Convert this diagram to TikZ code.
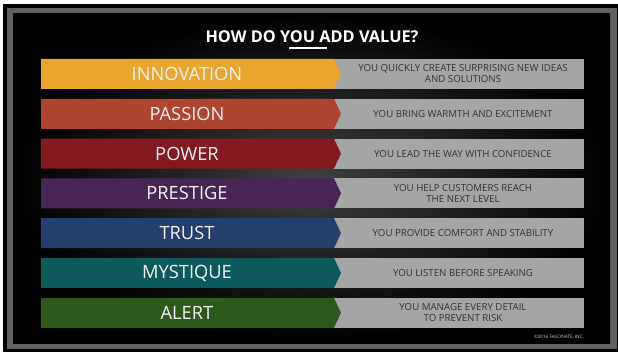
\documentclass[tikz,border=0pt]{standalone}
\usepackage{fontspec}
\setmainfont{Open Sans}
\usepackage{xcolor}
\usepackage{tikz}

\definecolor{innovation}{HTML}{E9A52E}
\definecolor{passion}{HTML}{AF4430}
\definecolor{power}{HTML}{841A1F}
\definecolor{prestige}{HTML}{472655}
\definecolor{trust}{HTML}{223F6E}
\definecolor{mystique}{HTML}{0C5A5B}
\definecolor{alert}{HTML}{2E591C}
\definecolor{descgray}{HTML}{A3A6A5}
\definecolor{frame}{HTML}{616161}

\begin{document}
\begin{tikzpicture}[x=1pt,y=-1pt,
    lbl/.style={text=white!95!black,font=\fontsize{18.3}{20}\selectfont},
    desc/.style={text=black!80,align=center,font=\fontsize{9.7}{11}\selectfont},
    descbar/.style={fill=descgray}]
      \useasboundingbox (0,0) rectangle (618,352);
      \fill[white] (0,0) rectangle (618,352);
      \fill[black] (3,4) rectangle (618,352);
      \fill[frame] (7,8) rectangle (617,349);
      \shade[inner color=black!75!white,outer color=black] (13,14) rectangle (610,343);

      \node[text=white,font=\bfseries\fontsize{16.3}{18}\selectfont,anchor=base] (title) at (312,43) {HOW DO YOU ADD VALUE?};
      \draw[white,line width=2pt] (289,48) -- (327,48);

      % innovation
      \fill[descbar] (333,59) rectangle (584,89);
      \fill[innovation] (41,59) -- (334,59) -- (341,74) -- (334,89) -- (41,89) -- cycle;
      \node[lbl] (m-1-1) at (187,74) {INNOVATION};
      \node[desc] (m-1-2) at (463,74) {YOU QUICKLY CREATE SURPRISING NEW IDEAS\\AND SOLUTIONS};

      % passion
      \fill[descbar] (333,98.8) rectangle (584,128.8);
      \fill[passion] (41,98.8) -- (334,98.8) -- (341,113.8) -- (334,128.8) -- (41,128.8) -- cycle;
      \node[lbl] (m-2-1) at (187,113.8) {PASSION};
      \node[desc] (m-2-2) at (463,113.8) {YOU BRING WARMTH AND EXCITEMENT};

      % power
      \fill[descbar] (333,138.6) rectangle (584,168.6);
      \fill[power] (41,138.6) -- (334,138.6) -- (341,153.6) -- (334,168.6) -- (41,168.6) -- cycle;
      \node[lbl] (m-3-1) at (187,153.6) {POWER};
      \node[desc] (m-3-2) at (463,153.6) {YOU LEAD THE WAY WITH CONFIDENCE};

      % prestige
      \fill[descbar] (333,178.4) rectangle (584,208.4);
      \fill[prestige] (41,178.4) -- (334,178.4) -- (341,193.4) -- (334,208.4) -- (41,208.4) -- cycle;
      \node[lbl] (m-4-1) at (187,193.4) {PRESTIGE};
      \node[desc] (m-4-2) at (463,193.4) {YOU HELP CUSTOMERS REACH\\THE NEXT LEVEL};

      % trust
      \fill[descbar] (333,218.2) rectangle (584,248.2);
      \fill[trust] (41,218.2) -- (334,218.2) -- (341,233.2) -- (334,248.2) -- (41,248.2) -- cycle;
      \node[lbl] (m-5-1) at (187,233.2) {TRUST};
      \node[desc] (m-5-2) at (463,233.2) {YOU PROVIDE COMFORT AND STABILITY};

      % mystique
      \fill[descbar] (333,258) rectangle (584,288);
      \fill[mystique] (41,258) -- (334,258) -- (341,273) -- (334,288) -- (41,288) -- cycle;
      \node[lbl] (m-6-1) at (187,273) {MYSTIQUE};
      \node[desc] (m-6-2) at (463,273) {YOU LISTEN BEFORE SPEAKING};

      % alert
      \fill[descbar] (333,297.8) rectangle (584,327.8);
      \fill[alert] (41,297.8) -- (334,297.8) -- (341,312.8) -- (334,327.8) -- (41,327.8) -- cycle;
      \node[lbl] (m-7-1) at (187,312.8) {ALERT};
      \node[desc] (m-7-2) at (463,312.8) {YOU MANAGE EVERY DETAIL\\TO PREVENT RISK};

      \node[text=white!85!black,font=\fontsize{4.6}{5}\selectfont,anchor=base east,inner sep=0pt] (copy) at (584,338) {\textcopyright2016 FASCINATE, INC.};

    \end{tikzpicture}
\end{document}
